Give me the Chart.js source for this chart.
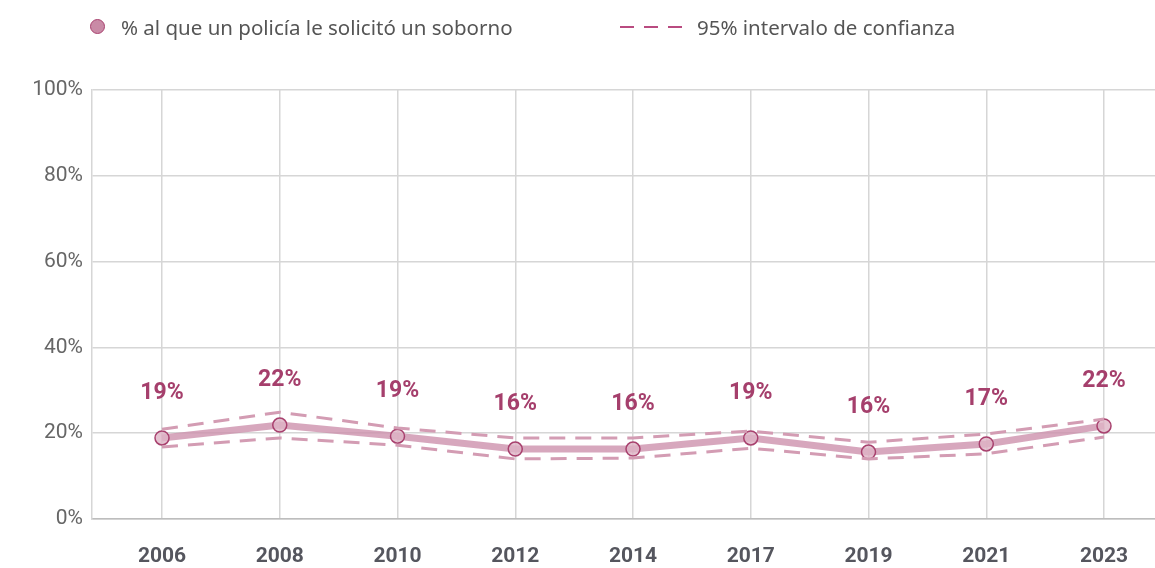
<!DOCTYPE html>
<html>
<head>
<meta charset="utf-8">
<script src="https://cdn.jsdelivr.net/npm/chart.js@4/dist/chart.umd.min.js"></script>
<style>
  html, body { margin: 0; padding: 0; background: #fff; }
  #wrap { position: relative; width: 1155px; height: 568px; overflow: hidden; font-family: Roboto, sans-serif; }
  #legend { position: absolute; top: 0; left: 0; width: 1155px; height: 54px; color: #555; font-size: 20.5px; font-family: "Noto Sans", sans-serif; }
  .item { position: absolute; top: 13px; line-height: 28px; white-space: nowrap; }
  .dot { position: absolute; left: 90px; top: 19px; width: 13px; height: 13px; border-radius: 50%;
         background: #c98aa6; border: 1.5px solid #a8416e; }
  canvas { position: absolute; top: 0; left: 0; }
</style>
</head>
<body>
<div id="wrap">
  <canvas id="grafico" width="1155" height="568"></canvas>
  <div id="legend">
    <span class="dot"></span>
    <span class="item" style="left:121px">% al que un policía le solicitó un soborno</span>
    <svg style="position:absolute;left:619px;top:20px" width="66" height="14">
      <line x1="1" y1="7" x2="65" y2="7" stroke="#b94b80" stroke-width="2" stroke-dasharray="14,10"/>
    </svg>
    <span class="item" style="left:697px">95% intervalo de confianza</span>
  </div>
</div>
<script>
// Datos
const anios = ["2006", "2008", "2010", "2012", "2014", "2017", "2019", "2021", "2023"];
const soborno = [18.9, 21.9, 19.3, 16.3, 16.3, 18.9, 15.6, 17.5, 21.7];
const icSuperior = [20.9, 24.9, 21.2, 18.9, 18.9, 20.5, 17.9, 19.8, 23.3];
const icInferior = [16.8, 18.9, 17.2, 14.0, 14.2, 16.5, 14.0, 15.2, 19.1];
const etiquetas = ["19%", "22%", "19%", "16%", "16%", "19%", "16%", "17%", "22%"];
const ticksY = [0, 20, 40, 60, 80, 100];

const puntos = (serie) => serie.map((v, i) => ({ x: i, y: v }));

// Plugin para dibujar las etiquetas de porcentaje encima de cada punto
const etiquetasPlugin = {
  id: "etiquetas",
  afterDatasetsDraw(chart) {
    const ctx = chart.ctx;
    const meta = chart.getDatasetMeta(2);
    ctx.save();
    ctx.font = "bold 23px Roboto, sans-serif";
    ctx.fillStyle = "#a53f6c";
    ctx.textAlign = "center";
    ctx.textBaseline = "middle";
    meta.data.forEach((p, i) => {
      ctx.fillText(etiquetas[i], p.x, p.y - 45);
    });
    ctx.restore();
  },
};

const dashColor = "#d39cb3";

new Chart(document.getElementById("grafico"), {
  type: "line",
  data: {
    datasets: [
      {
        label: "Superior",
        data: puntos(icSuperior),
        borderColor: dashColor,
        borderWidth: 3,
        borderDash: [16, 10],
        pointRadius: 0,
        fill: false,
      },
      {
        label: "Inferior",
        data: puntos(icInferior),
        borderColor: dashColor,
        borderWidth: 3,
        borderDash: [16, 10],
        pointRadius: 0,
        fill: false,
      },
      {
        label: "% al que un policía le solicitó un soborno",
        data: puntos(soborno),
        borderColor: "rgba(205, 145, 172, 0.8)",
        borderWidth: 7,
        pointRadius: 7,
        pointBackgroundColor: "rgba(222, 180, 198, 0.8)",
        pointBorderColor: "#a8416e",
        pointBorderWidth: 1.5,
        fill: false,
      },
    ],
  },
  options: {
    responsive: false,
    animation: false,
    layout: { autoPadding: false, padding: { top: 90, left: 0, right: 0, bottom: 0 } },
    plugins: {
      legend: { display: false },
      tooltip: { enabled: false },
    },
    scales: {
      x: {
        type: "linear",
        min: -0.5945,
        max: 8.433,
        afterBuildTicks: (axis) => {
          axis.ticks = anios.map((_, i) => ({ value: i }));
        },
        afterFit: (axis) => {
          axis.height = 49;
          axis.paddingLeft = 0;
          axis.paddingRight = 0;
        },
        ticks: {
          callback: (v) => anios[v],
          color: "#55565e",
          font: { family: "Roboto", size: 21, weight: "bold" },
          padding: 25,
          maxRotation: 0,
          autoSkip: false,
        },
        grid: { color: "#d6d6d6", lineWidth: 1.5, drawTicks: false },
        border: { color: "#bdbdbd", width: 1.5 },
      },
      y: {
        min: 0,
        max: 100,
        afterBuildTicks: (axis) => {
          axis.ticks = ticksY.map((v) => ({ value: v }));
        },
        afterFit: (axis) => {
          axis.width = 92;
          axis.paddingTop = 0;
          axis.paddingBottom = 0;
        },
        ticks: {
          callback: (v) => v + "%",
          color: "#666",
          font: { family: "Roboto", size: 21 },
          padding: 9,
        },
        grid: { color: "#d6d6d6", lineWidth: 1.5, drawTicks: false },
        border: { color: "#d6d6d6", width: 1.5 },
      },
    },
  },
  plugins: [etiquetasPlugin],
});
</script>
</body>
</html>
